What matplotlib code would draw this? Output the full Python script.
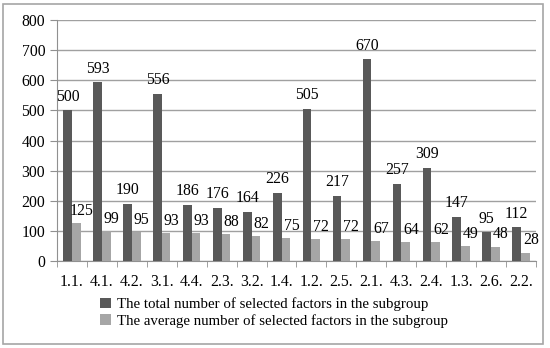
import numpy as np
import matplotlib.pyplot as plt
from matplotlib.patches import Rectangle

categories = ["1.1.", "4.1.", "4.2.", "3.1.", "4.4.", "2.3.", "3.2.", "1.4.", "1.2.",
              "2.5.", "2.1.", "4.3.", "2.4.", "1.3.", "2.6.", "2.2."]
total = [500, 593, 190, 556, 186, 176, 164, 226, 505, 217, 670, 257, 309, 147, 95, 112]
average = [125, 99, 95, 93, 93, 88, 82, 75, 72, 72, 67, 64, 62, 49, 48, 28]

plt.rcParams['font.family'] = ['Liberation Serif', 'DejaVu Serif']
fs = 11.3

fig = plt.figure(figsize=(5.5, 3.48), dpi=100)
ax = fig.add_axes([0.1036, 0.25, 0.8709, 0.6925])
fig.patches.append(Rectangle((0.006, 0.012), 0.982, 0.976, transform=fig.transFigure,
                             fill=False, edgecolor='#a6a6a6', linewidth=1.2))

x = np.arange(len(categories))
w = 0.29
b1 = ax.bar(x - w / 2, total, w, color='#595959', zorder=3,
            label='The total number of selected factors in the subgroup')
b2 = ax.bar(x + w / 2, average, w, color='#a6a6a6', zorder=3,
            label='The average number of selected factors in the subgroup')

for xi, v in zip(x, total):
    ax.annotate(str(v), (xi - w / 2, v), xytext=(0, 4), textcoords='offset points',
                ha='center', va='bottom', fontsize=fs)
for xi, v in zip(x, average):
    ax.annotate(str(v), (xi + w / 2, v), xytext=(4, 3), textcoords='offset points',
                ha='center', va='bottom', fontsize=fs)

ax.set_xlim(-0.5, len(categories) - 0.5)
ax.set_ylim(0, 800)
ax.set_yticks(range(0, 801, 100))
ax.yaxis.grid(True, color='#a0a0a0', linewidth=1, zorder=0)
ax.set_xticks(x)
ax.set_xticklabels(categories)
ax.set_xticks(np.arange(-0.5, len(categories), 1), minor=True)
ax.tick_params(axis='x', which='major', length=0, labelsize=fs, pad=9)
ax.tick_params(axis='x', which='minor', length=4, color='#909090')
ax.tick_params(axis='y', length=5, color='#909090', labelsize=fs)
for s in ['top', 'right']:
    ax.spines[s].set_visible(False)
for s in ['left', 'bottom']:
    ax.spines[s].set_color('#909090')

fig.legend(handles=[b1, b2], loc='upper left', bbox_to_anchor=(0.169, 0.167),
           frameon=False, fontsize=10.75, handlelength=0.7, handleheight=0.7,
           handletextpad=0.4, labelspacing=0.2, borderpad=0)

fig.savefig('out.png', dpi=100)
